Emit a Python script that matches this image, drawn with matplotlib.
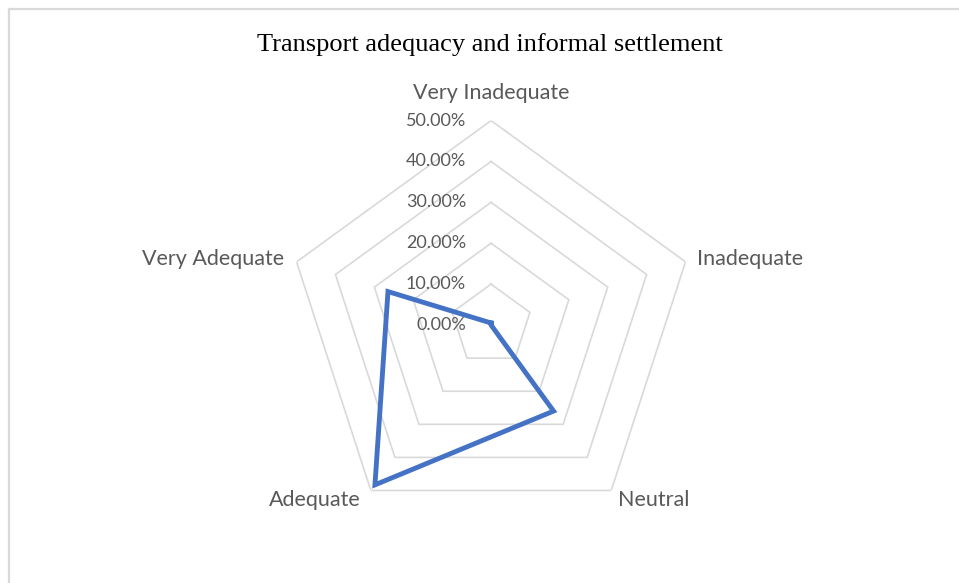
import numpy as np
import matplotlib
matplotlib.use("Agg")
from matplotlib import pyplot as plt
from matplotlib.lines import Line2D

categories = ["Very Inadequate", "Inadequate", "Neutral", "Adequate", "Very Adequate"]
values = [0.5, 0.0, 26.0, 48.3, 26.5]
ring_levels = [10, 20, 30, 40, 50]
tick_levels = [0, 10, 20, 30, 40, 50]
tick_labels = ["0.00%", "10.00%", "20.00%", "30.00%", "40.00%", "50.00%"]

line_blue = "#4472C4"
grid_grey = "#D9D9D9"
text_grey = "#595959"

fig = plt.figure(figsize=(9.59, 5.83), dpi=100)
fig.patch.set_facecolor("white")

# chart frame (top and left edges visible)
fig.add_artist(Line2D([9 / 959, 1.0], [1 - 9 / 583, 1 - 9 / 583],
                      transform=fig.transFigure, color=grid_grey, lw=1.6))
fig.add_artist(Line2D([9 / 959, 9 / 959], [0.0, 1 - 9 / 583],
                      transform=fig.transFigure, color=grid_grey, lw=1.6))

ax = fig.add_axes([0.2988, 0.0917, 0.4265, 0.7015], projection="polar")
ax.set_theta_offset(np.pi / 2)
ax.set_theta_direction(-1)
ax.set_ylim(0, 50)
ax.grid(False)
ax.spines["polar"].set_visible(False)
ax.set_xticks([])
ax.set_yticks([])
ax.patch.set_alpha(0)

theta = np.linspace(0, 2 * np.pi, len(categories), endpoint=False)
theta_closed = np.append(theta, theta[0])

# pentagon rings
for lvl in ring_levels:
    ax.plot(theta_closed, [lvl] * len(theta_closed), color=grid_grey, lw=1.2,
            solid_joinstyle="miter", zorder=1)

# value labels along the top axis
for lvl, lab in zip(tick_levels, tick_labels):
    ax.annotate(lab, xy=(0, lvl), xytext=(-18, 0), textcoords="offset points",
                ha="right", va="center", fontsize=13, color=text_grey,
                family="Lato", annotation_clip=False)

# category labels outside the outer ring
label_pos = [((0, 20), "center", "center"),
             ((8, 2), "left", "center"),
             ((5, -7), "left", "center"),
             ((-7, -7), "right", "center"),
             ((-9, 2), "right", "center")]
for t, name, (off, ha, va) in zip(theta, categories, label_pos):
    ax.annotate(name, xy=(t, 50), xytext=off, textcoords="offset points",
                ha=ha, va=va, fontsize=15.5, color=text_grey, family="Lato",
                annotation_clip=False)

vals_closed = values + [values[0]]
ax.plot(theta_closed, vals_closed, color=line_blue, lw=3.5,
        solid_joinstyle="miter", zorder=3)

fig.text(490 / 959, 1 - 45 / 583, "Transport adequacy and informal settlement",
         ha="center", va="center", fontsize=19, family="Liberation Serif",
         color="black")

fig.savefig("out.png", dpi=100)
